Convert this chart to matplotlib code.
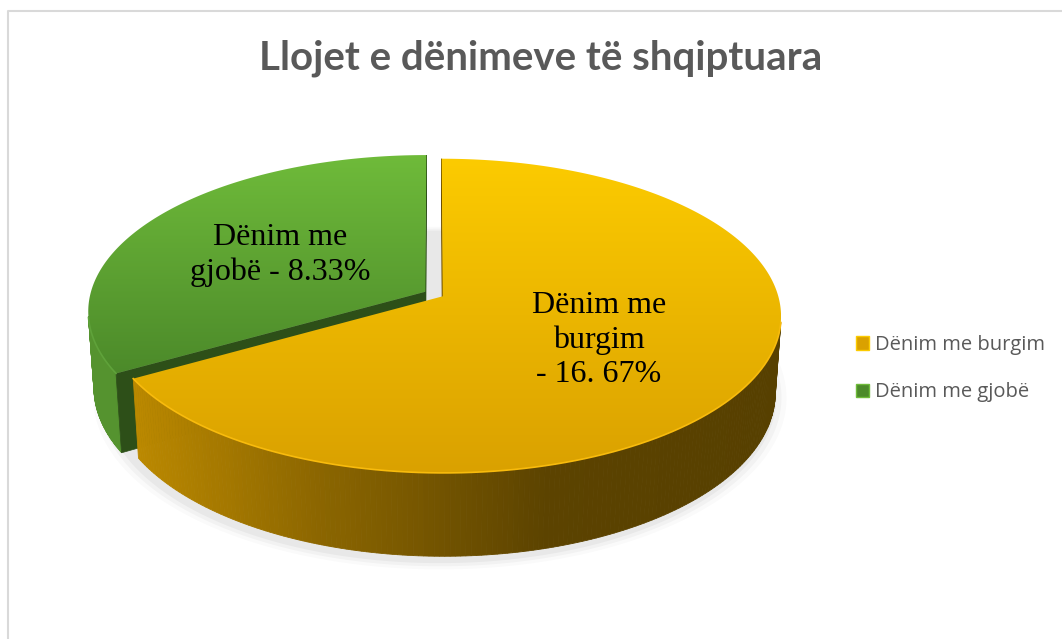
import numpy as np
import matplotlib
matplotlib.use("Agg")
import matplotlib.pyplot as plt
from matplotlib.patches import Polygon, Rectangle
from matplotlib.colors import LinearSegmentedColormap, to_rgb

# data
categories = ['Dënim me burgim', 'Dënim me gjobë']
shares = [16.67, 8.33]
data_labels = ['Dënim me\nburgim\n- 16. 67%', 'Dënim me\ngjobë - 8.33%']
title = 'Llojet e dënimeve të shqiptuara'

# look of each slice: top gradient (far -> near), wall gradient (left -> right), side face
top_colors = [['#fccb00', '#daa100'], ['#6fbb3a', '#4c8a2a']]
wall_colors = [['#c48f00', '#8a6500', '#5c4300', '#574000'], ['#55932f', '#3f7a22']]
side_colors = ['#6b4e00', '#2d4f18']

# pie geometry (pixels)
W, H = 1062, 639
cx, cy = 434, 294
R = 335
depth = 87
explode = 10
tilt = np.arcsin(0.46)
D = 2400.0
st, ct = np.sin(tilt), np.cos(tilt)
cam = np.array([0.0, -D * ct, D * st])


def project(x, y, z):
    d = y * ct - z * st
    f = D / (D + d)
    return cx + x * f, cy - (y * st + z * ct) * f


fig = plt.figure(figsize=(W / 100, H / 100), dpi=100)
ax = fig.add_axes([0, 0, 1, 1])
ax.set_xlim(0, W)
ax.set_ylim(H, 0)
ax.axis('off')

# chart border
ax.plot([8, 8, W + 5], [H + 5, 11, 11], color='#d9d9d9', lw=1.5, zorder=0)

# slice angles: first slice starts at 12 o'clock, clockwise
total = sum(shares)
spans = []
start = 90.0
for v in shares:
    sweep = 360.0 * v / total
    spans.append((start - sweep, start))
    start -= sweep

# soft shadow under the pie
for k, a in enumerate([0.04, 0.03, 0.02]):
    t = np.linspace(0, 2 * np.pi, 200)
    grow = 4 + 5 * k
    xs, ys = project((R + grow) * np.cos(t), (R + grow) * np.sin(t) - 6, -depth - 4)
    ax.add_patch(Polygon(np.column_stack([xs + 6, ys]), closed=True, facecolor='black',
                         edgecolor='none', alpha=a, zorder=1))

# draw the smaller (back-left) slice first, then the big one in front
order = [1, 0]
z = 2
for i in order:
    a1, a2 = spans[i]
    mid = np.radians((a1 + a2) / 2)
    ox, oy = explode * np.cos(mid), explode * np.sin(mid)
    t = np.radians(np.linspace(a1, a2, 300))

    # outer wall, only the part facing the camera
    wcmap = LinearSegmentedColormap.from_list('w%d' % i, wall_colors[i])
    px = ox + R * np.cos(t)
    py = oy + R * np.sin(t)
    pts_top = [project(px[k], py[k], 0) for k in range(len(t))]
    pts_bot = [project(px[k], py[k], -depth) for k in range(len(t))]
    for k in range(len(t) - 1):
        tm = (t[k] + t[k + 1]) / 2
        n = np.array([np.cos(tm), np.sin(tm), 0])
        p = np.array([ox + R * np.cos(tm), oy + R * np.sin(tm), -depth / 2])
        if np.dot(cam - p, n) <= 0:
            continue
        xpos = (pts_top[k][0] - (cx - R)) / (2 * R)
        col = wcmap(np.clip(xpos, 0, 1))
        quad = [pts_top[k], pts_top[k + 1], pts_bot[k + 1], pts_bot[k]]
        ax.add_patch(Polygon(quad, closed=True, facecolor=col, edgecolor=col,
                             lw=0.6, zorder=z))
    z += 1

    # radial faces
    for a, nang in [(a1, a1 - 90), (a2, a2 + 90)]:
        ar, nr = np.radians(a), np.radians(nang)
        n = np.array([np.cos(nr), np.sin(nr), 0])
        p = np.array([ox + R / 2 * np.cos(ar), oy + R / 2 * np.sin(ar), -depth / 2])
        if np.dot(cam - p, n) <= 0:
            continue
        ex, ey = ox + R * np.cos(ar), oy + R * np.sin(ar)
        face = [project(ox, oy, 0), project(ex, ey, 0),
                project(ex, ey, -depth), project(ox, oy, -depth)]
        ax.add_patch(Polygon(face, closed=True, facecolor=side_colors[i],
                             edgecolor=side_colors[i], lw=0.5, zorder=z))
    z += 1

    # top face with a vertical gradient
    top = [project(ox, oy, 0)] + pts_top
    top_patch = Polygon(top, closed=True, facecolor='none', edgecolor='none', zorder=z)
    ax.add_patch(top_patch)
    tx = [p[0] for p in top]
    ty = [p[1] for p in top]
    tcmap = LinearSegmentedColormap.from_list('t%d' % i, top_colors[i])
    grad = np.linspace(0, 1, 256).reshape(-1, 1)
    im = ax.imshow(grad, cmap=tcmap, extent=[min(tx), max(tx), max(ty), min(ty)],
                   aspect='auto', zorder=z, interpolation='bilinear')
    im.set_clip_path(top_patch)
    z += 1

    # light rim along the front edge
    rim = [p for k, p in enumerate(pts_top)
           if np.dot(cam - np.array([px[k], py[k], 0]), [np.cos(t[k]), np.sin(t[k]), 0]) > 0]
    if rim:
        rc = np.array(rim)
        light = tuple(min(1, c * 1.08 + 0.05) for c in to_rgb(top_colors[i][1]))
        ax.plot(rc[:, 0], rc[:, 1], color=light, lw=1.2, zorder=z)
    z += 1

    # data label
    lr = 0.52 * R
    lx, ly = project(ox + lr * np.cos(mid), oy + lr * np.sin(mid), 0)
    ax.text(lx, ly + 2, data_labels[i], ha='center', va='center', fontsize=23,
            family='Liberation Serif', color='black', linespacing=1.25, zorder=50)

ax.set_xlim(0, W)
ax.set_ylim(H, 0)

# title
ax.text(541, 58, title, ha='center', va='center', fontsize=29, fontweight='bold',
        family='Lato', color='#595959', zorder=50)

# legend
handles = [Rectangle((0, 0), 1, 1, facecolor=top_colors[k][1], edgecolor=top_colors[k][0])
           for k in range(len(categories))]
leg = fig.legend(handles, categories, loc='upper left',
                 bbox_to_anchor=(838 / W, 1 - 317 / H), frameon=False,
                 handlelength=0.65, handleheight=0.65, handletextpad=0.3,
                 labelspacing=1.35, prop={'family': 'Open Sans', 'size': 14.5})
for txt in leg.get_texts():
    txt.set_color('#595959')

fig.savefig('out.png', dpi=100)
